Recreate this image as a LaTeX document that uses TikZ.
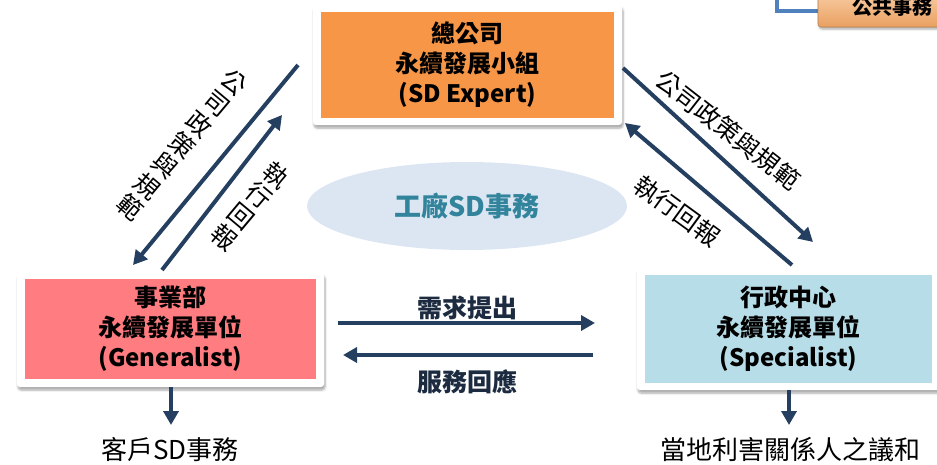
\documentclass[tikz,border=0pt]{standalone}
\usepackage{fontspec}
\setmainfont{Noto Sans CJK TC}
\usetikzlibrary{arrows.meta,shapes.geometric,shadows.blur}
\definecolor{navy}{HTML}{243F60}
\definecolor{orangeA}{HTML}{F79646}
\definecolor{pinkA}{HTML}{FF7C80}
\definecolor{blueA}{HTML}{B7DEE8}
\definecolor{ellA}{HTML}{DCE6F2}
\definecolor{ellT}{HTML}{31849B}
\definecolor{labT}{HTML}{1C2B40}
\definecolor{lineB}{HTML}{4F81BD}
\definecolor{peachT}{HTML}{FAD3AE}
\definecolor{peachB}{HTML}{E9A060}
\tikzset{
  card/.style={draw=none, fill=white, rounded corners=3pt, inner sep=0pt,
    blur shadow={shadow xshift=1pt, shadow yshift=-3pt, shadow opacity=35, shadow blur steps=6}},
  inbox/.style={draw=none, inner sep=0pt, align=center,
    font=\fontsize{24}{30}\selectfont\bfseries},
  arr/.style={draw=navy, line width=4pt, -{Triangle[length=14pt,width=15pt]}},
  slantlab/.style={font=\fontsize{25}{27}\selectfont, align=center, inner sep=0pt},
  midlab/.style={font=\fontsize{25}{27}\selectfont\bfseries, text=labT, inner sep=0pt},
  botlab/.style={font=\fontsize{26}{28}\selectfont, inner sep=0pt}
}
\begin{document}
\begin{tikzpicture}[x=1pt,y=-1pt]
\useasboundingbox (0,0) rectangle (937,464);
\clip (0,0) rectangle (937,464);
% partial element top right
\draw[lineB, line width=3.5pt] (777,-3) |- (822,11);
\node[draw=peachB!80!black, line width=0.6pt, top color=peachT, bottom color=peachB, rounded corners=3pt,
  minimum width=140, minimum height=40, inner sep=0pt,
  blur shadow={shadow xshift=1pt, shadow yshift=-2pt, shadow opacity=35}] (pub) at (888,7) {};
\node[font=\fontsize{20}{22}\selectfont\bfseries, anchor=west, inner sep=0pt] (pubt) at (852,7) {公共事務};
% ellipse
\node[ellipse, fill=ellA, minimum width=320, minimum height=88, inner sep=0pt] (ell) at (467,206) {};
\node[font=\fontsize{27}{30}\selectfont\bfseries, text=ellT, inner sep=0pt] (ellt) at (467,206) {工廠SD事務};
% cards
\node[card, minimum width=309, minimum height=120] (topc) at (467.5,65) {};
\node[inbox, fill=orangeA, minimum width=293, minimum height=106] (top) at (467.5,65)
  {總公司\\永續發展小組\\(SD Expert)};
\node[card, minimum width=307, minimum height=114] (leftc) at (170.5,330) {};
\node[inbox, fill=pinkA, minimum width=291, minimum height=100] (left) at (170.5,329)
  {事業部\\永續發展單位\\(Generalist)};
\node[card, minimum width=303, minimum height=123] (rightc) at (788.5,328.5) {};
\node[inbox, fill=blueA, minimum width=287, minimum height=108] (right) at (788.5,329)
  {行政中心\\永續發展單位\\(Specialist)};
% arrow end points
\coordinate (a1s) at (298,65);  \coordinate (a1e) at (133,265);
\coordinate (a2s) at (162,270); \coordinate (a2e) at (282,115);
\coordinate (a3s) at (623,68);  \coordinate (a3e) at (813,242);
\coordinate (a4s) at (792,265); \coordinate (a4e) at (625,123);
\coordinate (m1s) at (338,323); \coordinate (m1e) at (595,323);
\coordinate (m2s) at (593,355); \coordinate (m2e) at (343,355);
\coordinate (d1s) at (171,387); \coordinate (d1e) at (171,425);
\coordinate (d2s) at (789,390); \coordinate (d2e) at (789,425);
\draw[arr] (a1s) -- (a1e);
\draw[arr] (a2s) -- (a2e);
\draw[arr] (a3s) -- (a3e);
\draw[arr] (a4s) -- (a4e);
\draw[arr] (m1s) -- (m1e);
\draw[arr] (m2s) -- (m2e);
\draw[arr] (d1s) -- (d1e);
\draw[arr] (d2s) -- (d2e);
% slanted labels
\node[slantlab, rotate=-40] (l1) at (182,145) {公\\司\\政\\策\\與\\規\\範};
\node[slantlab, rotate=-40] (l2) at (250,206) {執\\行\\回\\報};
\node[slantlab, rotate=-38] (r1) at (728,130) {公司政策與規範};
\node[slantlab, rotate=-36] (r2) at (677,211) {執行回報};
% middle labels
\node[midlab] (need) at (467,308) {需求提出};
\node[midlab] (serv) at (467,382) {服務回應};
% bottom labels
\node[botlab] (cust) at (170,450) {客戶SD事務};
\node[botlab] (local) at (790,450) {當地利害關係人之議和};
\end{tikzpicture}
\end{document}
